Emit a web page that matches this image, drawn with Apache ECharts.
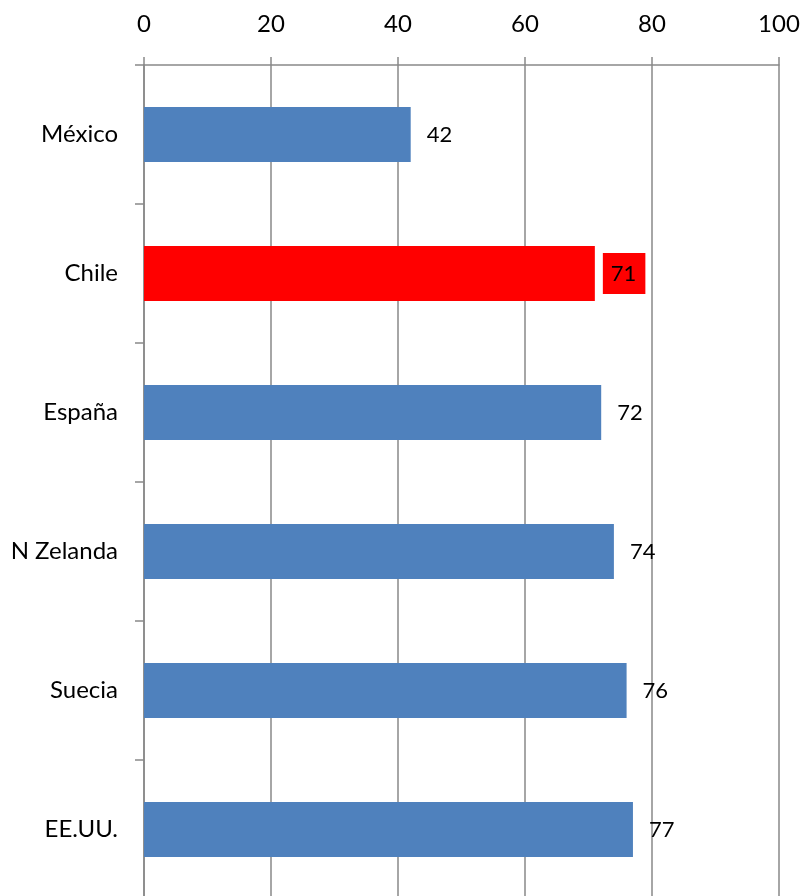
<!DOCTYPE html>
<html>
<head>
<meta charset="utf-8">
<script src="https://cdn.jsdelivr.net/npm/echarts@6/dist/echarts.min.js"></script>
<style>
  html, body { margin: 0; padding: 0; background: #fff; }
  #chart { width: 803px; height: 896px; }
</style>
</head>
<body>
<div id="chart"></div>
<script>
// paises, de arriba hacia abajo
var paises = ['México', 'Chile', 'España', 'N Zelanda', 'Suecia', 'EE.UU.'];
var valores = [42, 71, 72, 74, 76, 77];
// pais destacado en rojo
var destacado = 'Chile';

var azul = '#4F81BD';
var rojo = '#FF0000';
var gris = '#898989';
var fuente = 'Lato';

var chart = echarts.init(document.getElementById('chart'));

var datos = paises.map(function(p, i) {
  var esDest = p === destacado;
  return {
    value: valores[i],
    itemStyle: { color: esDest ? rojo : azul },
    label: esDest ? { backgroundColor: rojo } : {}
  };
});

var option = {
  animation: false,
  grid: {
    left: 144,
    right: 24,
    top: 65,
    height: 834,
    containLabel: false,
    outerBoundsMode: 'none'
  },
  xAxis: {
    type: 'value',
    position: 'top',
    min: 0,
    max: 100,
    interval: 20,
    axisLine: { show: true, lineStyle: { color: gris, width: 1.5 } },
    axisTick: { show: true, length: 8, lineStyle: { color: gris, width: 1.5 } },
    axisLabel: {
      margin: 29,
      color: '#000',
      fontFamily: fuente,
      fontSize: 24
    },
    splitLine: { show: true, lineStyle: { color: gris, width: 1.5 } }
  },
  yAxis: {
    type: 'category',
    inverse: true,
    data: paises,
    axisLine: { show: true, lineStyle: { color: gris, width: 1.5 } },
    axisTick: { show: true, length: 9, lineStyle: { color: gris, width: 1.5 } },
    axisLabel: {
      margin: 26,
      color: '#000',
      fontFamily: fuente,
      fontSize: 24
    },
    splitLine: { show: false }
  },
  series: [{
    type: 'bar',
    barWidth: 55,
    data: datos,
    label: {
      show: true,
      position: 'right',
      distance: 8,
      padding: [10, 9, 9, 8],
      color: '#000',
      fontFamily: fuente,
      fontSize: 22
    }
  }]
};

chart.setOption(option);
</script>
</body>
</html>
